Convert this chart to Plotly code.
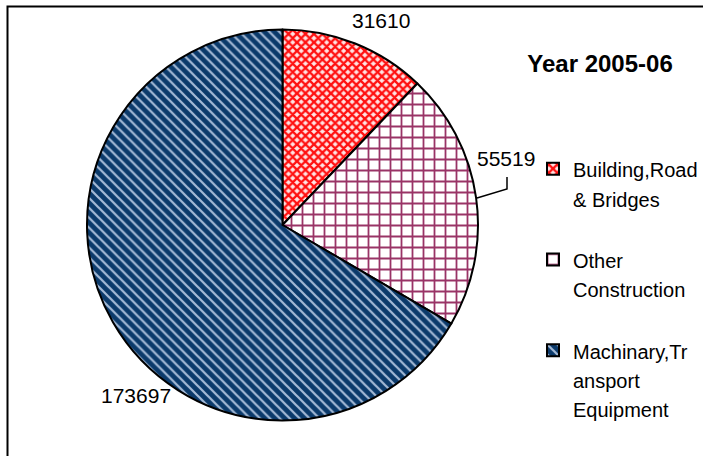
import plotly.graph_objects as go

categories = ["Building,Road<br>& Bridges", "Other<br>Construction", "Machinary,Tr<br>ansport<br>Equipment"]
values = [31610, 55519, 173697]
title_text = "Year 2005-06"

W, H = 703, 456
FONT = "Liberation Sans, Arial, sans-serif"

def px(x):
    return x / W

def py(y):
    return 1 - y / H

def legend_text(c, last):
    body = "<span style='font-size:20px'>" + c.replace("<br>", "</span><br><span style='font-size:20px'>") + "</span>"
    return body if last else body + "<br>&nbsp;"

legend_labels = [legend_text(c, i == len(categories) - 1) for i, c in enumerate(categories)]

fig = go.Figure(go.Pie(
    labels=legend_labels,
    values=values,
    sort=False,
    direction="clockwise",
    rotation=0,
    textinfo="none",
    hoverinfo="skip",
    domain=dict(x=[px(87), px(478)], y=[py(420.5), py(29.5)]),
    marker=dict(
        colors=["#ff6060", "#ffffff", "#0b3a6b"],
        line=dict(color="black", width=2),
        pattern=dict(
            shape=["x", "+", "\\"],
            fgcolor=["#ff1010", "#993366", "#a5bad6"],
            bgcolor=["#ffe4e4", "#ffffff", "#0b3a6b"],
            size=[6, 11, 7],
            solidity=[0.62, 0.3, 0.32],
            fillmode="replace",
        ),
    ),
    showlegend=True,
))

# value labels
label_pos = [(381, 20), (505.5, 158.5), (136, 395)]
for v, (x, y) in zip(values, label_pos):
    fig.add_annotation(x=px(x), y=py(y), xref="paper", yref="paper", text=str(v),
                       showarrow=False, font=dict(family=FONT, size=21, color="black"),
                       xanchor="center", yanchor="middle")

# leader line for second label
fig.add_shape(type="path", xref="paper", yref="paper",
              path=f"M {px(477)} {py(198)} L {px(507)} {py(189)} L {px(507)} {py(177)}",
              line=dict(color="black", width=1.5))

# outer frame (only top and left edges fall inside the picture)
fig.add_shape(type="path", xref="paper", yref="paper",
              path=f"M {px(7.5)} 0 L {px(7.5)} {py(6.5)} L 1 {py(6.5)}",
              line=dict(color="black", width=2))

fig.update_layout(
    width=W, height=H,
    margin=dict(l=0, r=0, t=0, b=0),
    paper_bgcolor="white",
    plot_bgcolor="white",
    title=dict(text="<b>" + title_text + "</b>", x=px(600), y=py(63.5), xanchor="center", yanchor="middle",
               font=dict(family=FONT, size=24, color="black")),
    legend=dict(x=px(533), y=py(147.5), xanchor="left", yanchor="top",
                valign="top", font=dict(family=FONT, size=22.5, color="black"),
                bgcolor="rgba(0,0,0,0)", traceorder="normal"),
)

post = (
    "document.documentElement.style.overflow='hidden';"
    "document.body.style.margin='0';"
    "document.body.style.overflow='hidden';"
)

fig.write_html("out.html", config={"displayModeBar": False}, post_script=post)
